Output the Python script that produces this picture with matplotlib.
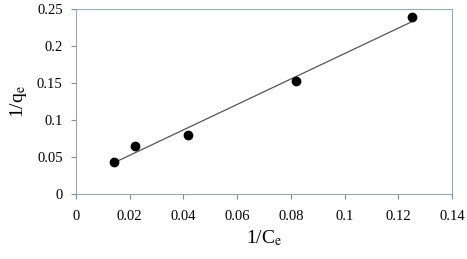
import numpy as np
import matplotlib
matplotlib.use("Agg")
import matplotlib.pyplot as plt

plt.rcParams['font.family'] = ['Liberation Serif', 'DejaVu Serif']
plt.rcParams['mathtext.fontset'] = 'stix'

inv_ce = [0.0140, 0.0221, 0.0416, 0.0819, 0.1251]
inv_qe = [0.0437, 0.0649, 0.0793, 0.1523, 0.2387]
x_ticks = [0, 0.02, 0.04, 0.06, 0.08, 0.1, 0.12, 0.14]
x_tick_labels = ['0', '0.02', '0.04', '0.06', '0.08', '0.1', '0.12', '0.14']
y_ticks = [0, 0.05, 0.1, 0.15, 0.2, 0.25]
y_tick_labels = ['0', '0.05', '0.1', '0.15', '0.2', '0.25']

fig = plt.figure(figsize=(4.67, 2.59), dpi=100)
ax = fig.add_axes([0.1627, 0.251, 0.805, 0.714])

slope, intercept = np.polyfit(inv_ce, inv_qe, 1)
xl = np.array([min(inv_ce), max(inv_ce)])
ax.plot(xl, slope * xl + intercept, color='#555555', lw=0.9, zorder=2)
ax.plot(inv_ce, inv_qe, 'o', color='black', markersize=6, zorder=3)

ax.set_xlim(0, 0.14)
ax.set_ylim(0, 0.25)
ax.set_xticks(x_ticks)
ax.set_xticklabels(x_tick_labels)
ax.set_yticks(y_ticks)
ax.set_yticklabels(y_tick_labels)

spine_color = '#9aa6b2'
for s in ax.spines.values():
    s.set_color(spine_color)
    s.set_linewidth(0.8)
ax.tick_params(axis='both', direction='out', length=3.6, width=0.8,
               color='#8a8a8a', labelsize=10.5)
ax.tick_params(axis='x', pad=8)
ax.tick_params(axis='y', pad=6)

ax.set_xlabel('1/C$_\\mathrm{e}$', fontsize=14, labelpad=4)
ax.set_ylabel('1/q$_\\mathrm{e}$', fontsize=14, labelpad=6)

fig.savefig('out.png', dpi=100)
